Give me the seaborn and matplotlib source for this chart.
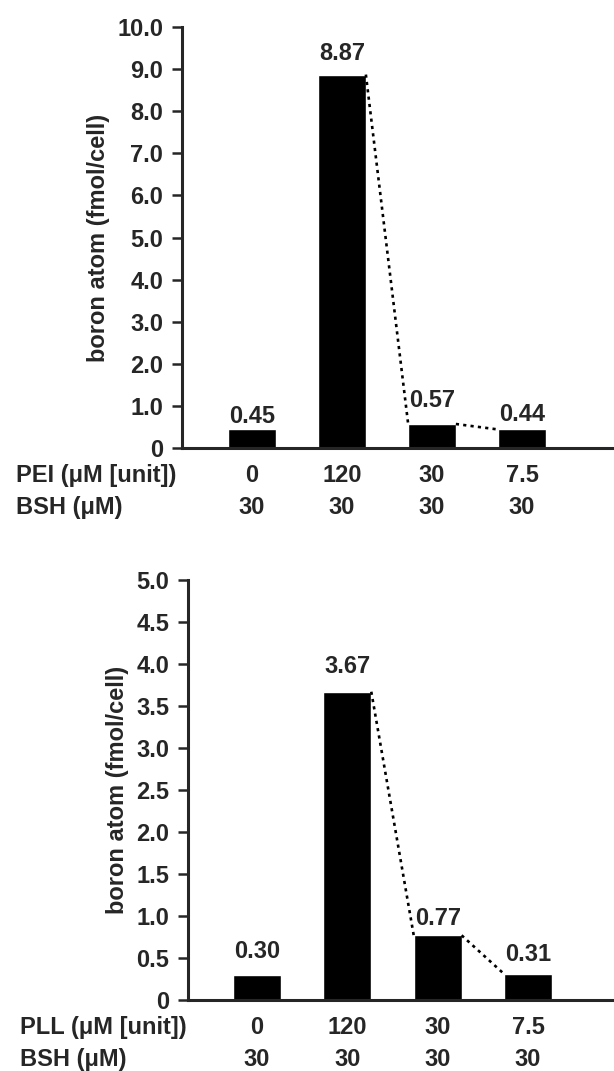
import numpy as np
import pandas as pd
import matplotlib
matplotlib.use('Agg')
import matplotlib.pyplot as plt
import seaborn as sns

# data
pei_conc = ['0', '120', '30', '7.5']
pll_conc = ['0', '120', '30', '7.5']
bsh_conc = ['30', '30', '30', '30']
pei_boron = [0.45, 8.87, 0.57, 0.44]
pll_boron = [0.30, 3.67, 0.77, 0.31]
pei_yticks = [0, 1, 2, 3, 4, 5, 6, 7, 8, 9, 10]
pei_yticklabels = ['0', '1.0', '2.0', '3.0', '4.0', '5.0', '6.0', '7.0', '8.0', '9.0', '10.0']
pll_yticks = [0, 0.5, 1, 1.5, 2, 2.5, 3, 3.5, 4, 4.5, 5]
pll_yticklabels = ['0', '0.5', '1.0', '1.5', '2.0', '2.5', '3.0', '3.5', '4.0', '4.5', '5.0']

sns.set_style('ticks')
plt.rcParams['font.family'] = ['Liberation Sans', 'DejaVu Sans']
plt.rcParams['font.weight'] = 'bold'

W, H = 614, 1071
fig = plt.figure(figsize=(W / 100, H / 100), dpi=100)
FS = 17


def panel(rect, xlim, conc, vals, yticks, yticklabels, ymax, row1_name, label_x, value_offsets):
    ax = fig.add_axes(rect)
    df = pd.DataFrame({'conc': conc, 'boron': vals})
    sns.barplot(data=df, x='conc', y='boron', color='black', saturation=1,
                width=0.53, errorbar=None, ax=ax)
    ax.set_xlim(*xlim)
    ax.set_ylim(0, ymax)
    ax.set_yticks(yticks)
    ax.set_yticklabels(yticklabels, fontsize=FS, fontweight='bold')
    ax.set_xticks([])
    ax.set_xlabel('')
    ax.set_ylabel('boron atom (fmol/cell)', fontsize=FS, fontweight='bold', labelpad=5)
    sns.despine(ax=ax)
    for side in ['left', 'bottom']:
        ax.spines[side].set_linewidth(2.2)
    ax.tick_params(axis='y', direction='out', length=7.5, width=1.8, pad=6)

    bars = ax.patches
    # dotted connectors between bar corners
    for i in (1, 2):
        b0, b1 = bars[i], bars[i + 1]
        ax.plot([b0.get_x() + b0.get_width(), b1.get_x()],
                [b0.get_height(), b1.get_height()],
                color='black', ls=(0, (1.2, 1.6)), lw=1.9, clip_on=False)
    # value labels above bars
    for b, v, off in zip(bars, vals, value_offsets):
        ax.annotate(f'{v:.2f}', (b.get_x() + b.get_width() / 2, b.get_height()),
                    xytext=(0, off), textcoords='offset points',
                    ha='center', va='center', fontsize=FS, fontweight='bold')
    # condition rows under the axis
    for i, (c, s) in enumerate(zip(conc, bsh_conc)):
        ax.annotate(c, (i, 0), xytext=(0, -19.5), textcoords='offset points',
                    ha='center', va='center', fontsize=FS, fontweight='bold',
                    annotation_clip=False)
        ax.annotate(s, (i, 0), xytext=(0, -42.5), textcoords='offset points',
                    ha='center', va='center', fontsize=FS, fontweight='bold',
                    annotation_clip=False)
    ax.annotate(row1_name, (label_x, 0), xycoords=('figure pixels', 'data'),
                xytext=(0, -19.5), textcoords='offset points',
                ha='left', va='center', fontsize=FS, fontweight='bold',
                annotation_clip=False)
    ax.annotate('BSH (\u03bcM)', (label_x, 0), xycoords=('figure pixels', 'data'),
                xytext=(0, -42.5), textcoords='offset points',
                ha='left', va='center', fontsize=FS, fontweight='bold',
                annotation_clip=False)
    return ax


# top panel: PEI
panel([182 / W, 1 - 448 / H, 430 / W, 421 / H], (-0.778, 4.0),
      pei_conc, pei_boron, pei_yticks, pei_yticklabels, 10,
      'PEI (\u03bcM [unit])', 16, [9, 15, 17, 10.5])

# bottom panel: PLL
panel([188 / W, 1 - 1000 / H, 424 / W, 420 / H], (-0.764, 3.93),
      pll_conc, pll_boron, pll_yticks, pll_yticklabels, 5,
      'PLL (\u03bcM [unit])', 20, [16.6, 18, 12.2, 13.7])

fig.savefig('out.png', dpi=100)
